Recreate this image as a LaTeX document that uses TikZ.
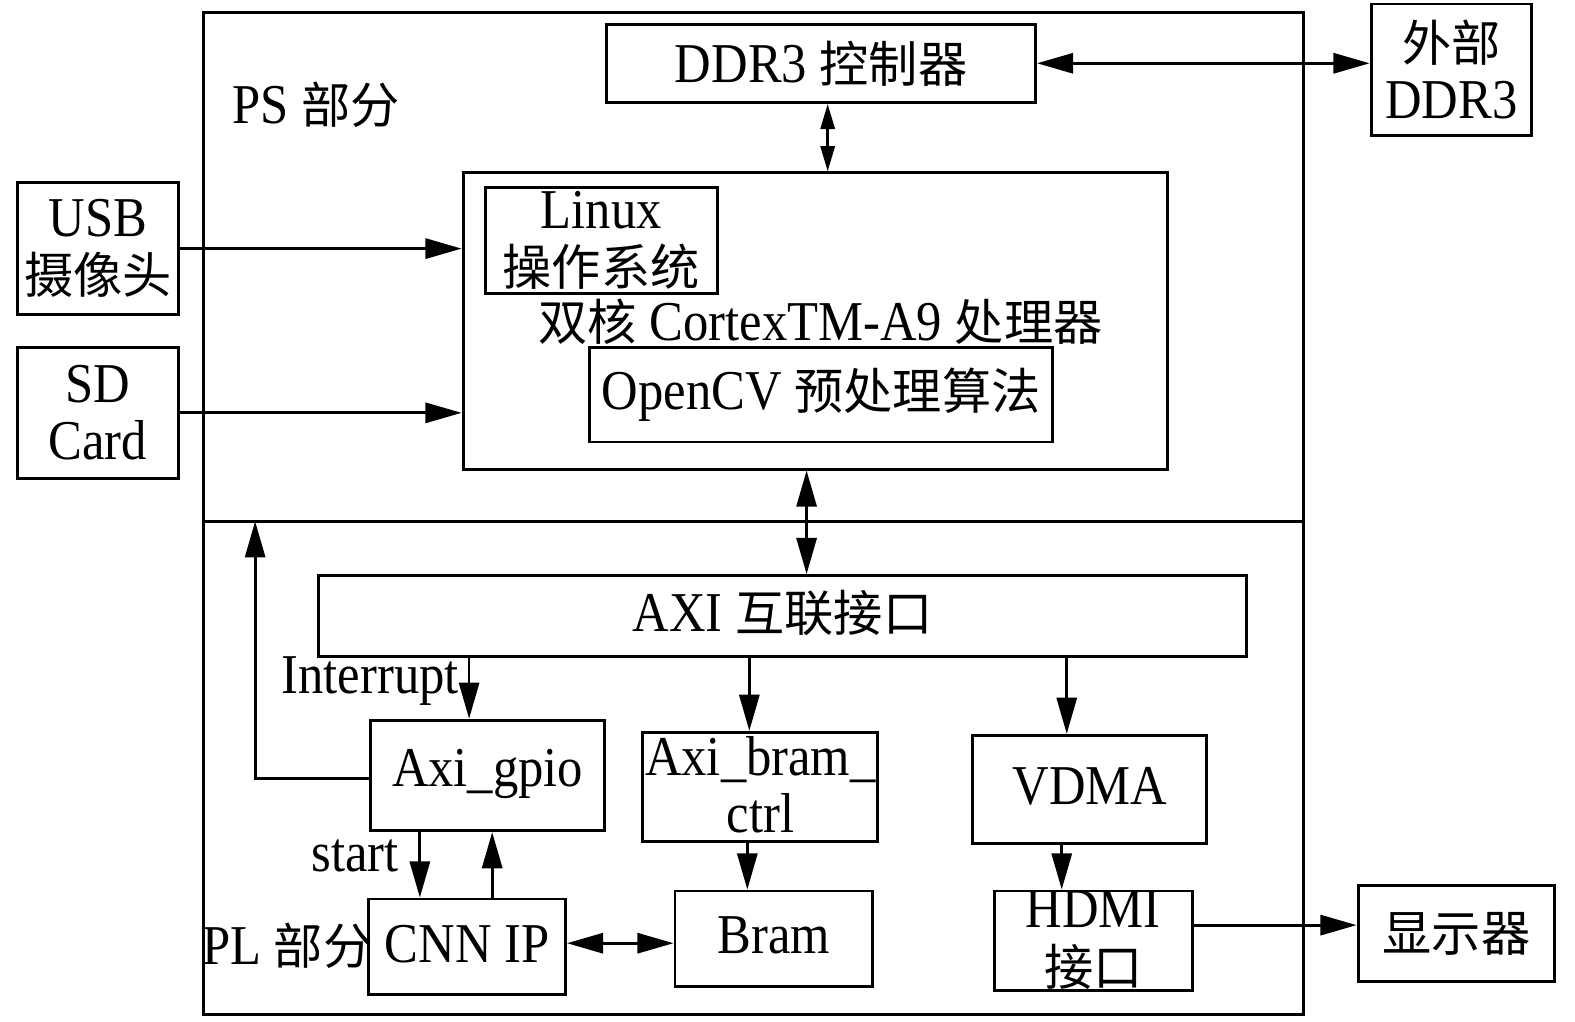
\documentclass[tikz,border=0pt]{standalone}
\usepackage{fontspec}
\setmainfont{Liberation Serif}[FakeStretch=0.9]
\newfontfamily\cjk{Noto Sans CJK SC}
\usetikzlibrary{arrows.meta}
\newcommand\zh[1]{{\cjk\fontsize{49}{57}\selectfont #1}}
\tikzset{
  box/.style={draw, line width=2.9pt, inner sep=0pt},
  txt/.style={inner sep=0pt, align=center, font=\fontsize{56}{57}\selectfont},
  arr/.style={line width=2.8pt, -{Triangle[length=36pt,width=20pt]}},
  darr/.style={line width=2.8pt, {Triangle[length=36pt,width=20pt]}-{Triangle[length=36pt,width=20pt]}},
  sdarr/.style={line width=2.8pt, {Triangle[length=25pt,width=14pt]}-{Triangle[length=25pt,width=14pt]}}
}
\begin{document}
\begin{tikzpicture}[x=1pt,y=-1pt]
\useasboundingbox (0,0) rectangle (1568,1017);
% containers
\node[box, minimum width=1095pt, minimum height=998pt] (outer) at (750.5,511) {};
\coordinate (sepL) at (203,519);
\coordinate (sepR) at (1298,519);
\draw[line width=2.9pt] (sepL) -- (sepR);
% boxes
\node[box, minimum width=427pt, minimum height=78pt] (ddrc) at (817.5,63) {};
\node[box, minimum width=160pt, minimum height=131pt] (ext) at (1445,69.5) {};
\node[box, minimum width=161pt, minimum height=131pt] (usb) at (97.5,247.5) {};
\node[box, minimum width=161pt, minimum height=130pt] (sd) at (97.5,411) {};
\node[box, minimum width=701pt, minimum height=295pt] (cpu) at (811.5,319.5) {};
\node[box, minimum width=231pt, minimum height=105pt] (linux) at (598.5,239.5) {};
\node[box, minimum width=461pt, minimum height=94pt] (opencv) at (817.5,393) {};
\node[box, minimum width=924pt, minimum height=81pt] (axi) at (779,613.5) {};
\node[box, minimum width=233pt, minimum height=110pt] (gpio) at (485.5,772) {};
\node[box, minimum width=234pt, minimum height=109pt] (bramctrl) at (757,783.5) {};
\node[box, minimum width=233pt, minimum height=108pt] (vdma) at (1084.5,786) {};
\node[box, minimum width=196pt, minimum height=95pt] (cnn) at (465,942.5) {};
\node[box, minimum width=197pt, minimum height=95pt] (bram) at (770.5,934.5) {};
\node[box, minimum width=197pt, minimum height=99pt] (hdmi) at (1088.5,936.5) {};
\node[box, minimum width=196pt, minimum height=95pt] (disp) at (1450,929.5) {};
% texts
\node[txt] (ddrcT) at (ddrc) {DDR3 \zh{控制器}};
\node[txt] (extT) at (ext) {\zh{外部}\\DDR3};
\node[txt] (usbT) at (usb) {USB\\\zh{摄像头}};
\node[txt] (sdT) at (sd) {SD\\Card};
\node[txt] (psT) at (315,104) {PS \zh{部分}};
\node[txt] (linuxT) at (linux) {Linux\\\zh{操作系统}};
\node[txt] (cpuT) at (817,320) {\zh{双核} CortexTM-A9 \zh{处理器}};
\node[txt] (opencvT) at (opencv) {OpenCV \zh{预处理算法}};
\node[txt] (axiT) at (779,610) {AXI \zh{互联接口}};
\node[txt] (gpioT) at (485.5,770) {Axi\_gpio};
\node[txt] (bramctrlT) at (757,781) {Axi\_bram\_\\ctrl};
\node[txt] (vdmaT) at (1085,783) {VDMA};
\node[txt] (cnnT) at (465,940) {CNN IP};
\node[txt] (bramT) at (770.5,931) {Bram};
\node[txt] (hdmiT) at (1088.5,936) {HDMI\\\zh{接口}};
\node[txt] (dispT) at (disp) {\zh{显示器}};
\node[txt, anchor=east] (intT) at (457,678) {Interrupt};
\node[txt, anchor=east] (startT) at (397,852) {start};
\node[txt, anchor=west] (plT) at (201,942) {PL \zh{部分}};
% connectors
\draw[arr] (usb.east) -- (usb.east -| cpu.west);
\draw[arr] (sd.east) -- (sd.east -| cpu.west);
\draw[darr] (ddrc.east) -- (ddrc.east -| ext.west);
\draw[sdarr] (ddrc.south -| 824,0) -- (cpu.north -| 824,0);
\draw[darr] (cpu.south -| 803,0) -- (axi.north -| 803,0);
\draw[arr] (axi.south -| 467,0) -- (gpio.north -| 467,0);
\draw[arr] (axi.south -| 746,0) -- (bramctrl.north -| 746,0);
\draw[arr] (axi.south -| 1062,0) -- (vdma.north -| 1062,0);
\draw[arr] (bramctrl.south -| 744,0) -- (bram.north -| 744,0);
\draw[arr] (vdma.south -| 1057,0) -- (hdmi.north -| 1057,0);
\draw[arr] (hdmi.east |- 0,921) -- (disp.west |- 0,921);
\draw[darr] (cnn.east |- 0,939) -- (bram.west |- 0,939);
\draw[arr] (gpio.south -| 418,0) -- (cnn.north -| 418,0);
\draw[arr] (cnn.north -| 490,0) -- (gpio.south -| 490,0);
\coordinate (fb) at (254,519);
\draw[arr] (gpio.west |- 0,775) -- (fb |- 0,775) -- (fb);
\end{tikzpicture}
\end{document}
